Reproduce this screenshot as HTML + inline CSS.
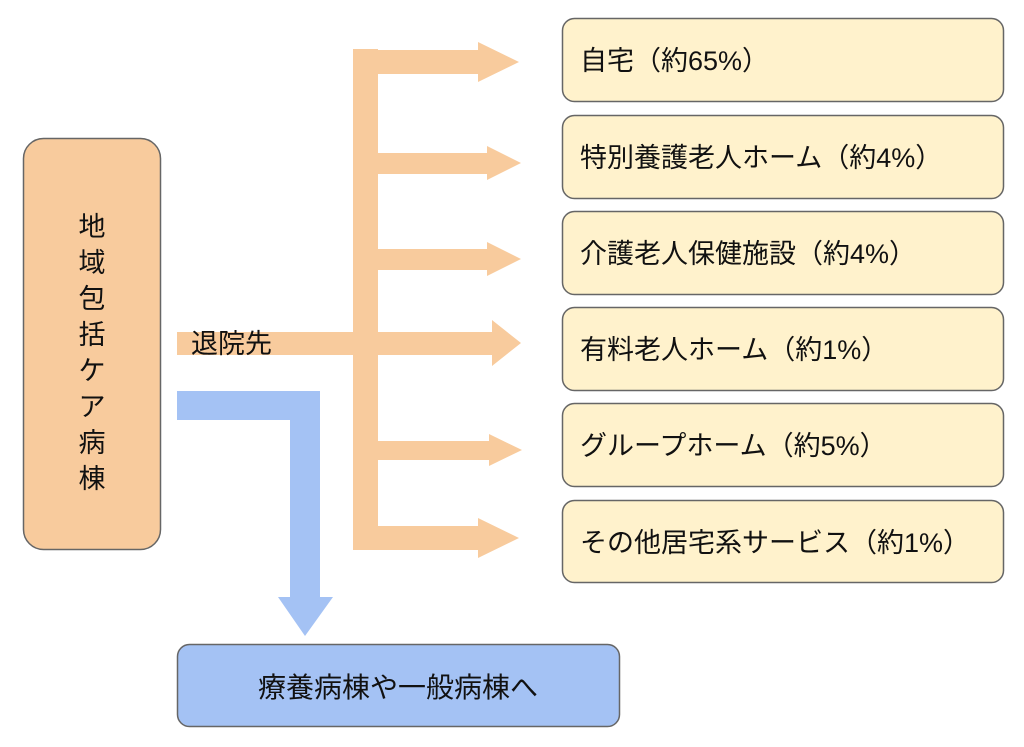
<!DOCTYPE html>
<html><head><meta charset="utf-8"><style>
body{margin:0;background:#fff;}
svg text{font-family:"Liberation Sans","Noto Sans CJK JP",sans-serif;fill:#111;}
</style></head><body>
<svg width="1024" height="742" xmlns="http://www.w3.org/2000/svg">
<g fill="#f8cb9d">
<rect x="353" y="49" width="25" height="501"/>
<rect x="177" y="332" width="201" height="23"/>
<polygon points="353,50 478,50 478,42 519,62 478,82 478,74 353,74"/>
<polygon points="378,153 487,153 487,146 521,163 487,180 487,174 378,174"/>
<polygon points="378,249 487,249 487,242 521,259 487,276 487,270 378,270"/>
<polygon points="378,332 492,332 492,320 521,343 492,366 492,355 378,355"/>
<polygon points="378,441 489,441 489,434 522,450 489,466 489,460 378,460"/>
<polygon points="353,526 478,526 478,518 519,538 478,558 478,550 353,550"/>
</g>
<polygon fill="#a4c2f4" points="177,391 320,391 320,597 333,597 305,636 278,597 290,597 290,420 177,420"/>
<rect x="23.5" y="138.5" width="137" height="411" rx="20" fill="#f8cb9d" stroke="#666" stroke-width="1.5"/>
<g font-size="27" text-anchor="middle">
<text x="92" y="236">地</text><text x="92" y="272">域</text><text x="92" y="308">包</text><text x="92" y="344">括</text><text x="92" y="380">ケ</text><text x="92" y="416">ア</text><text x="92" y="452">病</text><text x="92" y="488">棟</text>
</g>
<text x="191" y="353" font-size="27">退院先</text>
<rect x="177.5" y="644.5" width="442" height="82" rx="12" fill="#a4c2f4" stroke="#666" stroke-width="1.5"/>
<text x="398" y="697" font-size="28" text-anchor="middle">療養病棟や一般病棟へ</text>
<g fill="#fff2cc" stroke="#666" stroke-width="1.5">
<rect x="562.5" y="18.5" width="441" height="83" rx="12"/>
<rect x="562.5" y="115.5" width="441" height="83" rx="12"/>
<rect x="562.5" y="211.5" width="441" height="83" rx="12"/>
<rect x="562.5" y="307.5" width="441" height="83" rx="12"/>
<rect x="562.5" y="403.5" width="441" height="83" rx="12"/>
<rect x="562.5" y="500.5" width="441" height="82" rx="12"/>
</g>
<g font-size="27">
<text x="580" y="70">自宅（約65%）</text>
<text x="580" y="167">特別養護老人ホーム（約4%）</text>
<text x="580" y="263">介護老人保健施設（約4%）</text>
<text x="580" y="359">有料老人ホーム（約1%）</text>
<text x="580" y="455">グループホーム（約5%）</text>
<text x="580" y="552">その他居宅系サービス（約1%）</text>
</g>
</svg>
</body></html>
